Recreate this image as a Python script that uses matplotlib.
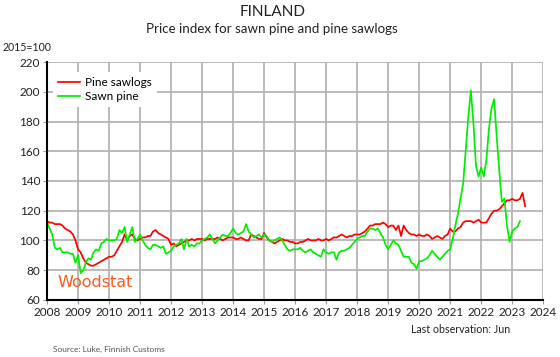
import numpy as np
import matplotlib
matplotlib.use("Agg")
import matplotlib.pyplot as plt

plt.rcParams['font.family'] = ['Lato', 'DejaVu Sans']

start_year = 2008
sawlogs = [
    113, 112, 112, 111, 111, 111, 110, 108, 107, 106, 104, 100,   # 2008
    94, 92, 88, 85, 84, 83, 83, 84, 85, 86, 87, 88,              # 2009
    89, 89, 90, 93, 96, 99, 104, 100, 103, 104, 101, 100,        # 2010
    101, 102, 102, 103, 103, 106, 107, 105, 104, 103, 102, 101,  # 2011
    97, 98, 96, 97, 98, 99, 100, 100, 101, 100, 101, 101,        # 2012
    101, 100, 101, 101, 101, 101, 102, 101, 100, 101, 102, 102,  # 2013
    102, 101, 101, 102, 101, 100, 100, 104, 103, 102, 101, 101,  # 2014
    105, 102, 100, 99, 98, 99, 100, 101, 100, 100, 99, 99,       # 2015
    98, 98, 99, 99, 100, 101, 100, 100, 100, 101, 100, 100,      # 2016
    101, 100, 101, 102, 102, 103, 104, 103, 102, 103, 103, 104,  # 2017
    104, 104, 105, 106, 108, 110, 110, 111, 111, 111, 112, 111,  # 2018
    109, 110, 110, 107, 110, 103, 110, 107, 105, 104, 104, 103,  # 2019
    104, 103, 103, 104, 103, 101, 102, 103, 102, 101, 103, 104,  # 2020
    108, 106, 106, 108, 109, 112, 113, 113, 113, 112, 113, 114,  # 2021
    112, 112, 112, 115, 118, 120, 120, 121, 123, 125, 127, 127,  # 2022
    128, 127, 127, 128, 132, 123,                                # 2023
]
sawn = [
    112, 108, 104, 95, 94, 95, 92, 92, 92, 91, 91, 85,           # 2008
    90, 78, 80, 85, 88, 87, 92, 94, 93, 98, 99, 101,             # 2009
    100, 100, 100, 101, 107, 105, 109, 99, 104, 109, 99, 101,    # 2010
    104, 100, 97, 95, 94, 97, 97, 96, 95, 96, 91, 92,            # 2011
    93, 96, 97, 98, 101, 94, 101, 96, 97, 96, 98, 98,            # 2012
    100, 101, 102, 104, 101, 98, 100, 102, 104, 103, 103, 105,   # 2013
    108, 105, 104, 105, 106, 111, 106, 104, 102, 103, 104, 102,  # 2014
    104, 103, 100, 99, 100, 101, 102, 100, 97, 94, 93, 94,       # 2015
    94, 94, 95, 93, 92, 93, 94, 92, 91, 90, 89, 94,              # 2016
    92, 91, 92, 92, 87, 92, 93, 93, 94, 95, 97, 99,              # 2017
    101, 102, 103, 103, 106, 108, 108, 107, 108, 105, 102, 97,   # 2018
    94, 97, 100, 98, 97, 93, 89, 89, 89, 85, 84, 81,             # 2019
    86, 86, 87, 88, 90, 93, 91, 89, 87, 89, 91, 93,              # 2020
    94, 101, 110, 118, 128, 138, 160, 183, 201, 179, 150, 143,   # 2021
    149, 143, 154, 175, 189, 195, 170, 147, 126, 128, 110, 99,   # 2022
    106, 108, 109, 113,                                          # 2023
]
x_ticks = list(range(2008, 2025))
y_ticks = [60, 80, 100, 120, 140, 160, 180, 200, 220]

x_red = start_year + np.arange(len(sawlogs)) / 12
x_green = start_year + np.arange(len(sawn)) / 12

fig = plt.figure(figsize=(5.6, 3.57), dpi=100)
ax = fig.add_axes([0.084, 0.160, 0.886, 0.666])

ax.plot(x_red, sawlogs, color='#ff0000', lw=1.25, label='Pine sawlogs', zorder=3)
ax.plot(x_green, sawn, color='#00ee00', lw=1.25, label='Sawn pine', zorder=3)

ax.set_xlim(2008, 2024)
ax.set_ylim(60, 220)
ax.set_xticks(x_ticks)
ax.set_yticks(y_ticks)
ax.tick_params(labelsize=8.5, length=3, color='#999999', pad=2, labelcolor='#222222')
ax.grid(True, color='#b4b4b4', lw=1.3, zorder=0)
for s in ['top', 'right']:
    ax.spines[s].set_visible(False)
for s in ['left', 'bottom']:
    ax.spines[s].set_linewidth(1.5)
    ax.spines[s].set_color('black')
    ax.spines[s].set_zorder(4)

leg = ax.legend(loc='upper left', bbox_to_anchor=(0.0, 0.985), frameon=True,
                fontsize=8.5, handlelength=1.8, borderpad=0.45, labelspacing=0.25,
                handletextpad=0.45, framealpha=1, edgecolor='white', fancybox=False)
leg.get_frame().set_linewidth(0)

ax.text(0.021, 0.055, 'Woodstat', transform=ax.transAxes, color='#ff5a1f',
        fontsize=11.5, family=['DejaVu Sans'], zorder=5)

fig.text(0.486, 0.965, 'FINLAND', ha='center', va='center', fontsize=11, color='#222222')
fig.text(0.486, 0.918, 'Price index for sawn pine and pine sawlogs', ha='center',
         va='center', fontsize=9.6, color='#222222')
fig.text(0.005, 0.868, '2015=100', ha='left', va='center', fontsize=7.6, color='#222222')
fig.text(0.911, 0.076, 'Last observation: Jun', ha='right', va='center', fontsize=7.7,
         color='#222222')
fig.text(0.095, 0.022, 'Source: Luke, Finnish Customs', ha='left', va='center',
         fontsize=6, color='#555555')

fig.savefig('out.png', dpi=100)
